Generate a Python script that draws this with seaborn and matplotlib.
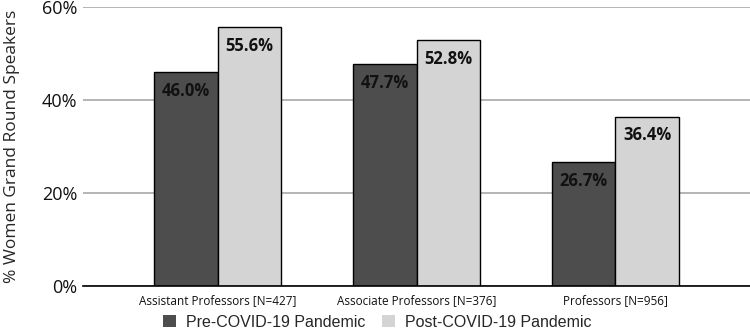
import pandas as pd
import matplotlib.pyplot as plt
import seaborn as sns
from matplotlib.patches import Patch

# values
ranks = ['Assistant Professors [N=427]', 'Associate Professors [N=376]', 'Professors [N=956]']
pre_covid = [46.0, 47.7, 26.7]
post_covid = [55.6, 52.8, 36.4]
periods = ['Pre-COVID-19 Pandemic', 'Post-COVID-19 Pandemic']
colors = ['#4d4d4d', '#d4d4d4']

df = pd.DataFrame({
    'rank': ranks * 2,
    'period': [periods[0]] * 3 + [periods[1]] * 3,
    'pct': pre_covid + post_covid,
})

sns.set_style('white')
plt.rcParams['font.family'] = ['Open Sans', 'DejaVu Sans']

fig = plt.figure(figsize=(7.5, 3.34), dpi=100)
ax = fig.add_axes([0.1107, 0.1437, 0.8893, 0.8353])

sns.barplot(data=df, x='rank', y='pct', hue='period', palette=colors,
            width=0.64, gap=0, edgecolor='black', linewidth=1.0,
            saturation=1, legend=False, ax=ax, zorder=3)

# value labels inside the top of each bar
for container in ax.containers:
    for bar in container:
        h = bar.get_height()
        ax.annotate(f'{h:.1f}%', (bar.get_x() + bar.get_width() / 2, h),
                    xytext=(0, -7), textcoords='offset points',
                    ha='center', va='top', fontsize=12, fontweight='bold',
                    color='#111111', zorder=4)

ax.set_ylim(0, 60)
ax.set_xlim(-0.678, 2.678)
ax.set_yticks([0, 20, 40, 60])
ax.set_yticklabels(['0%', '20%', '40%', '60%'], fontsize=13)
ax.tick_params(axis='x', labelsize=8.5, length=0, pad=6, colors='#111111')
ax.tick_params(axis='y', length=0, pad=4, colors='#111111')
ax.yaxis.grid(True, color='#a8a8a8', linewidth=1.2, zorder=0)
ax.set_axisbelow(True)
for side in ['top', 'right', 'left']:
    ax.spines[side].set_visible(False)
ax.spines['bottom'].set_color('black')
ax.spines['bottom'].set_linewidth(1.2)
ax.spines['bottom'].set_zorder(5)

ax.set_xlabel('')
ax.set_ylabel('% Women Grand Round Speakers', fontsize=12.5)
ax.yaxis.set_label_coords(-0.095, 0.5)

handles = [Patch(facecolor=c, edgecolor='none') for c in colors]
fig.legend(handles, periods, loc='center', bbox_to_anchor=(0.503, 0.035),
           ncol=2, frameon=False, prop={'family': 'Liberation Sans', 'size': 11.5},
           handlelength=0.8, handleheight=0.8, handletextpad=0.6,
           columnspacing=1.1)

fig.savefig('out.png', dpi=100)
